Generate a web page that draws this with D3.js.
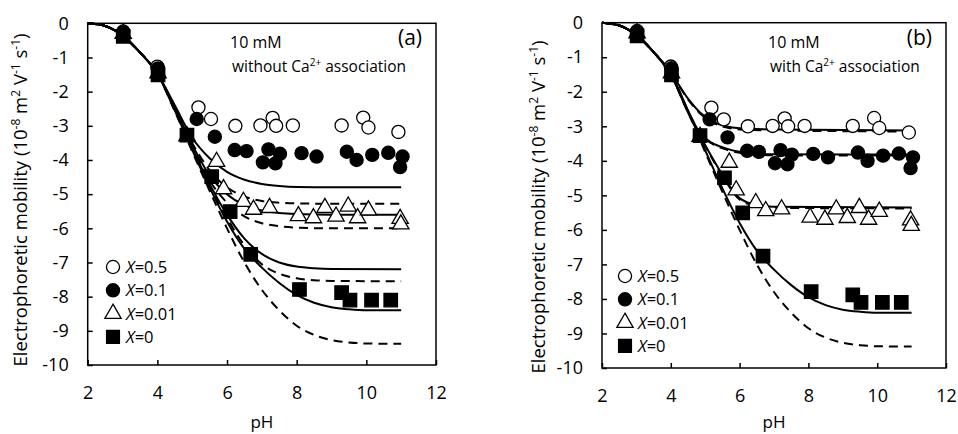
<!DOCTYPE html>
<html lang="en">
<head>
  <meta charset="UTF-8">
  <title>electrophoretic mobility vs pH</title>
  <style>
    body { margin: 0; background: #fff; }
    svg { display: block; }
    text { font-family: "Open Sans", "Noto Sans", sans-serif; fill: #000; }
  </style>
</head>
<body>
  <svg width="958" height="434"></svg>

  <script src="https://d3js.org/d3.v7.min.js"></script>
  <script>
  // 1. data
  var xTicks = [2, 4, 6, 8, 10, 12];
  var yTicks = [0, -1, -2, -3, -4, -5, -6, -7, -8, -9, -10];

  // measured points [pH, mobility], same in both panels
  var ptsX05 = [[3.02,-0.24],[4.0,-1.27],[5.18,-2.46],[5.54,-2.80],[6.24,-3.0],[6.96,-2.99],[7.31,-2.77],[7.41,-3.0],[7.89,-2.99],[9.29,-2.99],[9.91,-2.76],[10.06,-3.05],[10.92,-3.18]];
  var ptsX01 = [[3.02,-0.26],[4.02,-1.32],[5.13,-2.80],[5.65,-3.32],[6.22,-3.71],[6.56,-3.74],[7.03,-4.07],[7.19,-3.69],[7.39,-4.10],[7.52,-3.82],[8.14,-3.80],[8.57,-3.90],[9.44,-3.76],[9.72,-4.0],[10.17,-3.85],[10.63,-3.79],[11.04,-3.90],[10.97,-4.21]];
  var ptsX001 = [[3.02,-0.30],[4.02,-1.46],[4.85,-3.3],[5.70,-4.05],[5.90,-4.85],[6.47,-5.22],[6.76,-5.45],[7.22,-5.40],[8.05,-5.64],[8.48,-5.70],[8.81,-5.40],[9.13,-5.65],[9.48,-5.36],[9.75,-5.70],[10.06,-5.47],[10.97,-5.72],[10.99,-5.88]];
  var ptsX0 = [[3.02,-0.38],[4.02,-1.51],[4.85,-3.27],[5.56,-4.49],[6.09,-5.51],[6.68,-6.76],[8.08,-7.79],[9.29,-7.88],[9.53,-8.10],[10.15,-8.10],[10.70,-8.10]];

  // model curves, panel (a)
  var aSolid05 = [[2,0],[2.5,-0.08],[3,-0.36],[3.5,-0.85],[4,-1.47],[4.5,-2.4],[5,-3.35],[5.5,-3.95],[6,-4.35],[6.5,-4.58],[7,-4.7],[7.5,-4.76],[8,-4.79],[9,-4.8],[11,-4.8]];
  var aDash05  = [[2,0],[2.5,-0.08],[3,-0.36],[3.5,-0.85],[4,-1.47],[4.5,-2.45],[5,-3.5],[5.5,-4.3],[6,-4.8],[6.5,-5.07],[7,-5.2],[7.5,-5.25],[8,-5.27],[9,-5.28],[11,-5.28]];
  var aSolid01 = [[2,0],[2.5,-0.08],[3,-0.36],[3.5,-0.85],[4,-1.47],[4.5,-2.47],[5,-3.55],[5.5,-4.45],[6,-5.0],[6.5,-5.32],[7,-5.48],[7.5,-5.55],[8,-5.58],[9,-5.6],[11,-5.6]];
  var aDash01  = [[2,0],[2.5,-0.08],[3,-0.36],[3.5,-0.85],[4,-1.47],[4.5,-2.5],[5,-3.6],[5.5,-4.6],[6,-5.25],[6.5,-5.65],[7,-5.85],[7.5,-5.94],[8,-5.98],[9,-6.0],[11,-6.0]];
  var aSolid001 = [[2,0],[2.5,-0.08],[3,-0.36],[3.5,-0.85],[4,-1.47],[4.5,-2.52],[5,-3.65],[5.5,-4.7],[6,-5.6],[6.5,-6.3],[7,-6.75],[7.5,-7.0],[8,-7.12],[8.5,-7.17],[9,-7.19],[11,-7.2]];
  var aDash001  = [[2,0],[2.5,-0.08],[3,-0.36],[3.5,-0.85],[4,-1.47],[4.5,-2.54],[5,-3.7],[5.5,-4.75],[6,-5.7],[6.5,-6.5],[7,-7.05],[7.5,-7.33],[8,-7.46],[8.5,-7.52],[9,-7.54],[11,-7.55]];
  var solid0 = [[2,0],[2.5,-0.08],[3,-0.36],[3.5,-0.85],[4,-1.47],[4.5,-2.55],[5,-3.7],[5.5,-4.8],[6,-5.8],[6.5,-6.6],[7,-7.15],[7.5,-7.6],[8,-7.95],[8.5,-8.18],[9,-8.31],[9.5,-8.37],[10,-8.4],[11,-8.4]];
  var dash0  = [[2,0],[2.5,-0.08],[3,-0.36],[3.5,-0.85],[4,-1.47],[4.5,-2.57],[5,-3.75],[5.5,-4.9],[6,-6.0],[6.5,-7.0],[7,-7.8],[7.5,-8.4],[8,-8.85],[8.5,-9.12],[9,-9.27],[9.5,-9.34],[10,-9.37],[11,-9.38]];

  // model curves, panel (b)
  var bSolid05 = [[2,0],[2.5,-0.08],[3,-0.36],[3.5,-0.85],[4,-1.45],[4.5,-2.2],[4.85,-2.6],[5.2,-2.85],[5.6,-3.0],[6,-3.06],[7,-3.09],[11,-3.12]];
  var bDash05  = [[2,0],[2.5,-0.08],[3,-0.36],[3.5,-0.85],[4,-1.45],[4.5,-2.22],[4.85,-2.63],[5.2,-2.88],[5.6,-3.03],[6,-3.09],[7,-3.12],[11,-3.15]];
  var bSolid01 = [[2,0],[2.5,-0.08],[3,-0.36],[3.5,-0.85],[4,-1.5],[4.5,-2.55],[4.85,-3.2],[5.2,-3.48],[5.6,-3.64],[6,-3.74],[6.5,-3.79],[7,-3.81],[11,-3.82]];
  var bDash01  = [[2,0],[2.5,-0.08],[3,-0.36],[3.5,-0.85],[4,-1.5],[4.5,-2.56],[4.85,-3.22],[5.2,-3.5],[5.6,-3.67],[6,-3.77],[6.5,-3.82],[7,-3.84],[11,-3.85]];
  var bSolid001 = [[2,0],[2.5,-0.08],[3,-0.36],[3.5,-0.85],[4,-1.5],[4.5,-2.6],[5,-3.55],[5.5,-4.4],[6,-5.08],[6.5,-5.28],[7,-5.33],[11,-5.35]];
  var bDash001  = [[2,0],[2.5,-0.08],[3,-0.36],[3.5,-0.85],[4,-1.5],[4.5,-2.6],[5,-3.57],[5.5,-4.43],[6,-5.12],[6.5,-5.31],[7,-5.36],[11,-5.38]];

  var legendLabels = ["0.5", "0.1", "0.01", "0"];

  // 2. drawing
  var svg = d3.select("svg");

  function drawPanel(p) {
    var x = d3.scaleLinear().domain([2, 12]).range([p.left, p.right]);
    var y = d3.scaleLinear().domain([0, -10]).range([p.top, p.bottom]);
    var g = svg.append("g");

    var line = d3.line()
      .x(function(d) { return x(d[0]); })
      .y(function(d) { return y(d[1]); })
      .curve(d3.curveMonotoneX);

    p.dashed.forEach(function(c) {
      g.append("path").attr("d", line(c)).attr("fill", "none")
        .attr("stroke", "#000").attr("stroke-width", 2).attr("stroke-dasharray", "9,6");
    });
    p.solid.forEach(function(c) {
      g.append("path").attr("d", line(c)).attr("fill", "none")
        .attr("stroke", "#000").attr("stroke-width", 2);
    });

    // axes with inward ticks, plain hyphen for negatives
    var fmt = function(d) { return String(d); };
    var xAxis = d3.axisBottom(x).tickValues(xTicks).tickFormat(fmt).tickSizeInner(-5).tickSizeOuter(0);
    var yAxis = d3.axisLeft(y).tickValues(yTicks).tickFormat(fmt).tickSizeInner(-5).tickSizeOuter(0).tickPadding(19);
    var gx = g.append("g").attr("transform", "translate(0," + p.bottom + ")").call(xAxis);
    var gy = g.append("g").attr("transform", "translate(" + p.left + ",0)").call(yAxis);
    [gx, gy].forEach(function(a) {
      a.select(".domain").remove();
      a.selectAll("line").attr("stroke", "#000").attr("stroke-width", 1.5);
      a.selectAll("text").attr("font-size", 18).attr("font-family", "'Open Sans', sans-serif").attr("fill", "#000");
    });
    gx.selectAll("text").attr("dy", "0.71em").attr("y", 21);
    g.append("rect")
      .attr("x", p.left).attr("y", p.top)
      .attr("width", p.right - p.left).attr("height", p.bottom - p.top)
      .attr("fill", "none").attr("stroke", "#000").attr("stroke-width", 1.5);

    // data points
    var sym = function(type, size) { return d3.symbol().type(type).size(size); };
    function marks(data, type, size, fill) {
      g.selectAll(null).data(data).enter().append("path")
        .attr("d", sym(type, size)())
        .attr("transform", function(d) { return "translate(" + x(d[0]) + "," + y(d[1]) + ")"; })
        .attr("fill", fill).attr("stroke", "#000").attr("stroke-width", 1.3);
    }
    marks(ptsX001, d3.symbolTriangle, 115, "#fff");
    marks(ptsX0, d3.symbolSquare, 180, "#000");
    marks(ptsX05, d3.symbolCircle, 135, "#fff");
    marks(ptsX01, d3.symbolCircle, 135, "#000");

    // legend
    var legendSyms = [
      [d3.symbolCircle, 135, "#fff"], [d3.symbolCircle, 135, "#000"],
      [d3.symbolTriangle, 115, "#fff"], [d3.symbolSquare, 165, "#000"]
    ];
    legendLabels.forEach(function(lab, i) {
      var ly = p.legendY + i * 23.3;
      var s = legendSyms[i];
      g.append("path").attr("d", sym(s[0], s[1])())
        .attr("transform", "translate(" + p.legendX + "," + ly + ")")
        .attr("fill", s[2]).attr("stroke", "#000").attr("stroke-width", 1.3);
      var t = g.append("text").attr("x", p.legendX + 13).attr("y", ly + 6).attr("font-size", 16.5);
      t.append("tspan").attr("font-style", "italic").text("X");
      t.append("tspan").text("=" + lab);
    });

    // annotations
    g.append("text").attr("x", p.noteX).attr("y", 48).attr("font-size", 16).text("10 mM");
    var n = g.append("text").attr("x", p.noteX + 2).attr("y", 72).attr("font-size", 15.5);
    n.append("tspan").text(p.noteA + " Ca");
    n.append("tspan").attr("font-size", 10).attr("dy", -6).text("2+");
    n.append("tspan").attr("dy", 6).text(" association");
    g.append("text").attr("x", p.right - 14).attr("y", 45).attr("text-anchor", "end")
      .attr("font-size", 21).text(p.tag);

    // axis titles
    g.append("text").attr("x", (p.left + p.right) / 2).attr("y", p.pHY)
      .attr("text-anchor", "middle").attr("font-size", 17).text("pH");
    var yt = g.append("text").attr("text-anchor", "middle").attr("font-size", 18.5)
      .attr("transform", "translate(" + p.titleX + "," + p.titleY + ") rotate(-90)");
    yt.append("tspan").text("Electrophoretic mobility (10");
    yt.append("tspan").attr("font-size", 12).attr("dy", -7).text("-8");
    yt.append("tspan").attr("dy", 7).text(" m");
    yt.append("tspan").attr("font-size", 12).attr("dy", -7).text("2");
    yt.append("tspan").attr("dy", 7).text(" V");
    yt.append("tspan").attr("font-size", 12).attr("dy", -7).text("-1");
    yt.append("tspan").attr("dy", 7).text(" s");
    yt.append("tspan").attr("font-size", 12).attr("dy", -7).text("-1");
    yt.append("tspan").attr("dy", 7).text(")");
  }

  drawPanel({
    left: 87.7, right: 436, top: 23.3, bottom: 365,
    solid: [aSolid05, aSolid01, aSolid001, solid0],
    dashed: [aDash05, aDash01, aDash001, dash0],
    legendX: 113, legendY: 267,
    noteX: 230, noteA: "without", tag: "(a)",
    titleX: 27, titleY: 200, pHY: 428
  });
  drawPanel({
    left: 602, right: 946, top: 22.7, bottom: 368,
    solid: [bSolid05, bSolid01, bSolid001, solid0],
    dashed: [bDash05, bDash01, bDash001, dash0],
    legendX: 625, legendY: 276,
    noteX: 768, noteA: "with", tag: "(b)",
    titleX: 545, titleY: 207, pHY: 428
  });
  </script>
</body>
</html>
